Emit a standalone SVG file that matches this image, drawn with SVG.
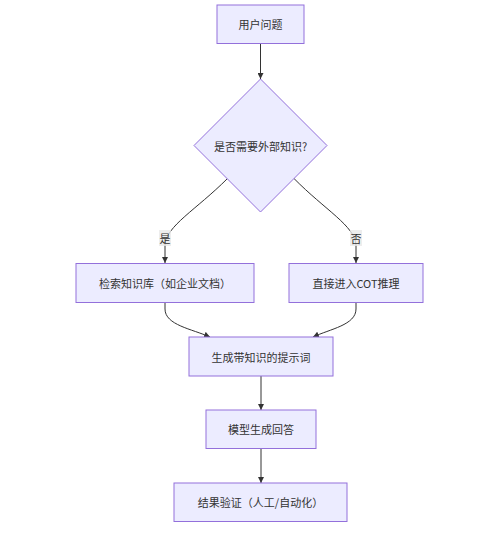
<svg xmlns="http://www.w3.org/2000/svg" width="500" height="533" viewBox="0 0 500 533">
<style>
.node rect,.node polygon{fill:#ECECFF;stroke:#9370DB;stroke-width:1}
text{font-family:"Noto Sans CJK SC","Liberation Sans",sans-serif;font-size:11px;fill:#333;text-anchor:middle;dominant-baseline:central}
.edge{fill:none;stroke:#333;stroke-width:1}
.lbl{fill:#e8e8e8;opacity:0.8}
</style>
<defs>
<marker id="arr" viewBox="0 0 10 10" refX="10" refY="5" markerWidth="6" markerHeight="6" markerUnits="userSpaceOnUse" orient="auto">
<path d="M0,0 L10,5 L0,10 z" fill="#333"/>
</marker>
</defs>
<rect width="500" height="533" fill="#fff"/>
<g id="edges">
<path class="edge" d="M260.5,43.5 L260.5,79" marker-end="url(#arr)"/>
<path class="edge" d="M227.5,178.5 C196,210 166,226 165,245 L165,263" marker-end="url(#arr)"/>
<path class="edge" d="M294,178.5 C325,210 355,226 356,245 L356,263" marker-end="url(#arr)"/>
<path class="edge" d="M165,302.5 L165,309 C165,325 192,329 210,337" marker-end="url(#arr)"/>
<path class="edge" d="M356,302.5 L356,309 C356,325 330,329 313,337" marker-end="url(#arr)"/>
<path class="edge" d="M261,376 L261,410" marker-end="url(#arr)"/>
<path class="edge" d="M261,448.5 L261,483" marker-end="url(#arr)"/>
<g id="label-yes"><rect class="lbl" x="159" y="230" width="12" height="16"/><text x="165" y="238">是</text></g>
<g id="label-no"><rect class="lbl" x="350" y="230" width="12" height="16"/><text x="356" y="238">否</text></g>
</g>
<g id="n1" class="node"><rect x="217" y="5" width="87" height="38.5"/><text x="260.5" y="24">用户问题</text></g>
<g id="n2" class="node"><polygon points="260.5,79 327,145.5 260.5,212 194,145.5"/><text x="260.5" y="145.5">是否需要外部知识?</text></g>
<g id="n3" class="node"><rect x="76" y="263.5" width="178" height="39"/><text x="165" y="283">检索知识库（如企业文档）</text></g>
<g id="n4" class="node"><rect x="289" y="263.5" width="134" height="39"/><text x="356" y="283">直接进入COT推理</text></g>
<g id="n5" class="node"><rect x="189" y="337" width="144" height="39"/><text x="261" y="356.5">生成带知识的提示词</text></g>
<g id="n6" class="node"><rect x="206" y="410" width="110" height="38.5"/><text x="261" y="429">模型生成回答</text></g>
<g id="n7" class="node"><rect x="174" y="483" width="173" height="38.5"/><text x="260.5" y="502">结果验证（人工/自动化）</text></g>
</svg>
